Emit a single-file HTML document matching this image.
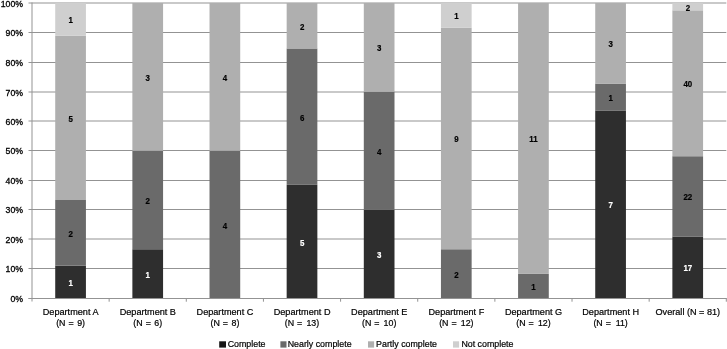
<!DOCTYPE html>
<html><head><meta charset="utf-8"><title>Chart</title>
<style>
html,body{margin:0;padding:0;background:#fff;overflow:hidden}
svg{display:block}
text{font-family:"Liberation Sans",sans-serif;fill:#000;stroke:#000;stroke-width:0.2px}
.ax{font-size:8.7px;stroke-width:0.3px}
.cat{font-size:9.15px}
.c2{font-size:8.85px}
.lg{font-size:8.85px}
.dl{font-size:8.8px;font-weight:bold}
</style></head><body>
<svg width="727" height="349" viewBox="0 0 727 349">
<rect width="727" height="349" fill="#fff"/>
<rect x="28.50" y="298.00" width="697.80" height="1" fill="#939393"/>
<text class="ax" x="23" y="302.10" text-anchor="end">0%</text>
<rect x="28.50" y="268.00" width="697.80" height="1" fill="#939393"/>
<text class="ax" x="23" y="272.10" text-anchor="end">10%</text>
<rect x="28.50" y="238.50" width="697.80" height="1" fill="#939393"/>
<text class="ax" x="23" y="242.60" text-anchor="end">20%</text>
<rect x="28.50" y="209.00" width="697.80" height="1" fill="#939393"/>
<text class="ax" x="23" y="213.10" text-anchor="end">30%</text>
<rect x="28.50" y="180.00" width="697.80" height="1" fill="#939393"/>
<text class="ax" x="23" y="184.10" text-anchor="end">40%</text>
<rect x="28.50" y="150.00" width="697.80" height="1" fill="#939393"/>
<text class="ax" x="23" y="154.10" text-anchor="end">50%</text>
<rect x="28.50" y="120.50" width="697.80" height="1" fill="#939393"/>
<text class="ax" x="23" y="124.60" text-anchor="end">60%</text>
<rect x="28.50" y="91.50" width="697.80" height="1" fill="#939393"/>
<text class="ax" x="23" y="95.60" text-anchor="end">70%</text>
<rect x="28.50" y="62.00" width="697.80" height="1" fill="#939393"/>
<text class="ax" x="23" y="66.10" text-anchor="end">80%</text>
<rect x="28.50" y="32.00" width="697.80" height="1" fill="#939393"/>
<text class="ax" x="23" y="36.10" text-anchor="end">90%</text>
<rect x="28.50" y="2.50" width="697.80" height="1" fill="#939393"/>
<text class="ax" x="23" y="6.60" text-anchor="end">100%</text>
<rect x="55.22" y="265.67" width="30.70" height="32.83" fill="#2e2e2e"/>
<text class="dl" transform="translate(70.67,286.03) scale(0.9,1)" text-anchor="middle" fill="#fff" style="fill:#fff;stroke:#fff">1</text>
<rect x="55.22" y="200.00" width="30.70" height="65.67" fill="#6a6a6a"/>
<text class="dl" transform="translate(70.67,236.78) scale(0.9,1)" text-anchor="middle" fill="#000" style="fill:#000;stroke:#000">2</text>
<rect x="55.22" y="35.83" width="30.70" height="164.17" fill="#afafaf"/>
<text class="dl" transform="translate(70.67,121.87) scale(0.9,1)" text-anchor="middle" fill="#000" style="fill:#000;stroke:#000">5</text>
<rect x="55.22" y="3.00" width="30.70" height="32.83" fill="#cfcfcf"/>
<text class="dl" transform="translate(70.67,23.37) scale(0.9,1)" text-anchor="middle" fill="#000" style="fill:#000;stroke:#000">1</text>
<text class="cat" x="70.67" y="314.9" text-anchor="middle">Department A</text>
<text class="cat c2" x="56.17" y="326.1">(N</text><text class="cat c2" x="71.07" y="326.1" text-anchor="middle">=</text><text class="cat c2" x="85.07" y="326.1" text-anchor="end">9)</text>
<rect x="132.37" y="249.25" width="30.70" height="49.25" fill="#2e2e2e"/>
<text class="dl" transform="translate(147.82,277.82) scale(0.9,1)" text-anchor="middle" fill="#fff" style="fill:#fff;stroke:#fff">1</text>
<rect x="132.37" y="150.75" width="30.70" height="98.50" fill="#6a6a6a"/>
<text class="dl" transform="translate(147.82,203.95) scale(0.9,1)" text-anchor="middle" fill="#000" style="fill:#000;stroke:#000">2</text>
<rect x="132.37" y="3.00" width="30.70" height="147.75" fill="#afafaf"/>
<text class="dl" transform="translate(147.82,80.83) scale(0.9,1)" text-anchor="middle" fill="#000" style="fill:#000;stroke:#000">3</text>
<text class="cat" x="147.82" y="314.9" text-anchor="middle">Department B</text>
<text class="cat c2" x="133.32" y="326.1">(N</text><text class="cat c2" x="148.22" y="326.1" text-anchor="middle">=</text><text class="cat c2" x="162.22" y="326.1" text-anchor="end">6)</text>
<rect x="209.51" y="150.75" width="30.70" height="147.75" fill="#6a6a6a"/>
<text class="dl" transform="translate(224.96,228.57) scale(0.9,1)" text-anchor="middle" fill="#000" style="fill:#000;stroke:#000">4</text>
<rect x="209.51" y="3.00" width="30.70" height="147.75" fill="#afafaf"/>
<text class="dl" transform="translate(224.96,80.83) scale(0.9,1)" text-anchor="middle" fill="#000" style="fill:#000;stroke:#000">4</text>
<text class="cat" x="224.96" y="314.9" text-anchor="middle">Department C</text>
<text class="cat c2" x="210.46" y="326.1">(N</text><text class="cat c2" x="225.36" y="326.1" text-anchor="middle">=</text><text class="cat c2" x="239.36" y="326.1" text-anchor="end">8)</text>
<rect x="286.66" y="184.85" width="30.70" height="113.65" fill="#2e2e2e"/>
<text class="dl" transform="translate(302.11,245.62) scale(0.9,1)" text-anchor="middle" fill="#fff" style="fill:#fff;stroke:#fff">5</text>
<rect x="286.66" y="48.46" width="30.70" height="136.38" fill="#6a6a6a"/>
<text class="dl" transform="translate(302.11,120.60) scale(0.9,1)" text-anchor="middle" fill="#000" style="fill:#000;stroke:#000">6</text>
<rect x="286.66" y="3.00" width="30.70" height="45.46" fill="#afafaf"/>
<text class="dl" transform="translate(302.11,29.68) scale(0.9,1)" text-anchor="middle" fill="#000" style="fill:#000;stroke:#000">2</text>
<text class="cat" x="302.11" y="314.9" text-anchor="middle">Department D</text>
<text class="cat c2" x="284.86" y="326.1">(N</text><text class="cat c2" x="299.71" y="326.1" text-anchor="middle">=</text><text class="cat c2" x="319.26" y="326.1" text-anchor="end">13)</text>
<rect x="363.80" y="209.85" width="30.70" height="88.65" fill="#2e2e2e"/>
<text class="dl" transform="translate(379.25,258.12) scale(0.9,1)" text-anchor="middle" fill="#fff" style="fill:#fff;stroke:#fff">3</text>
<rect x="363.80" y="91.65" width="30.70" height="118.20" fill="#6a6a6a"/>
<text class="dl" transform="translate(379.25,154.70) scale(0.9,1)" text-anchor="middle" fill="#000" style="fill:#000;stroke:#000">4</text>
<rect x="363.80" y="3.00" width="30.70" height="88.65" fill="#afafaf"/>
<text class="dl" transform="translate(379.25,51.28) scale(0.9,1)" text-anchor="middle" fill="#000" style="fill:#000;stroke:#000">3</text>
<text class="cat" x="379.25" y="314.9" text-anchor="middle">Department E</text>
<text class="cat c2" x="362.00" y="326.1">(N</text><text class="cat c2" x="376.85" y="326.1" text-anchor="middle">=</text><text class="cat c2" x="396.40" y="326.1" text-anchor="end">10)</text>
<rect x="440.94" y="249.25" width="30.70" height="49.25" fill="#6a6a6a"/>
<text class="dl" transform="translate(456.39,277.82) scale(0.9,1)" text-anchor="middle" fill="#000" style="fill:#000;stroke:#000">2</text>
<rect x="440.94" y="27.62" width="30.70" height="221.62" fill="#afafaf"/>
<text class="dl" transform="translate(456.39,142.39) scale(0.9,1)" text-anchor="middle" fill="#000" style="fill:#000;stroke:#000">9</text>
<rect x="440.94" y="3.00" width="30.70" height="24.62" fill="#cfcfcf"/>
<text class="dl" transform="translate(456.39,19.26) scale(0.9,1)" text-anchor="middle" fill="#000" style="fill:#000;stroke:#000">1</text>
<text class="cat" x="456.39" y="314.9" text-anchor="middle">Department F</text>
<text class="cat c2" x="439.14" y="326.1">(N</text><text class="cat c2" x="453.99" y="326.1" text-anchor="middle">=</text><text class="cat c2" x="473.54" y="326.1" text-anchor="end">12)</text>
<rect x="518.09" y="273.88" width="30.70" height="24.62" fill="#6a6a6a"/>
<text class="dl" transform="translate(533.54,290.14) scale(0.9,1)" text-anchor="middle" fill="#000" style="fill:#000;stroke:#000">1</text>
<rect x="518.09" y="3.00" width="30.70" height="270.88" fill="#afafaf"/>
<text class="dl" transform="translate(533.54,142.39) scale(0.9,1)" text-anchor="middle" fill="#000" style="fill:#000;stroke:#000">11</text>
<text class="cat" x="533.54" y="314.9" text-anchor="middle">Department G</text>
<text class="cat c2" x="516.29" y="326.1">(N</text><text class="cat c2" x="531.14" y="326.1" text-anchor="middle">=</text><text class="cat c2" x="550.69" y="326.1" text-anchor="end">12)</text>
<rect x="595.23" y="110.45" width="30.70" height="188.05" fill="#2e2e2e"/>
<text class="dl" transform="translate(610.68,208.43) scale(0.9,1)" text-anchor="middle" fill="#fff" style="fill:#fff;stroke:#fff">7</text>
<rect x="595.23" y="83.59" width="30.70" height="26.86" fill="#6a6a6a"/>
<text class="dl" transform="translate(610.68,100.97) scale(0.9,1)" text-anchor="middle" fill="#000" style="fill:#000;stroke:#000">1</text>
<rect x="595.23" y="3.00" width="30.70" height="80.59" fill="#afafaf"/>
<text class="dl" transform="translate(610.68,47.25) scale(0.9,1)" text-anchor="middle" fill="#000" style="fill:#000;stroke:#000">3</text>
<text class="cat" x="610.68" y="314.9" text-anchor="middle">Department H</text>
<text class="cat c2" x="593.43" y="326.1">(N</text><text class="cat c2" x="608.28" y="326.1" text-anchor="middle">=</text><text class="cat c2" x="627.83" y="326.1" text-anchor="end">11)</text>
<rect x="672.38" y="236.48" width="30.70" height="62.02" fill="#2e2e2e"/>
<text class="dl" transform="translate(687.83,271.44) scale(0.9,1)" text-anchor="middle" fill="#fff" style="fill:#fff;stroke:#fff">17</text>
<rect x="672.38" y="156.22" width="30.70" height="80.26" fill="#6a6a6a"/>
<text class="dl" transform="translate(687.83,200.30) scale(0.9,1)" text-anchor="middle" fill="#000" style="fill:#000;stroke:#000">22</text>
<rect x="672.38" y="10.30" width="30.70" height="145.93" fill="#afafaf"/>
<text class="dl" transform="translate(687.83,87.21) scale(0.9,1)" text-anchor="middle" fill="#000" style="fill:#000;stroke:#000">40</text>
<rect x="672.38" y="3.00" width="30.70" height="7.30" fill="#cfcfcf"/>
<text class="dl" transform="translate(687.83,10.60) scale(0.9,1)" text-anchor="middle" fill="#000" style="fill:#000;stroke:#000">2</text>
<text class="cat" x="687.83" y="314.9" text-anchor="middle">Overall (N = 81)</text>
<rect x="31.50" y="2.50" width="1" height="299.00" fill="#939393"/>
<rect x="28.50" y="298.00" width="698.30" height="1" fill="#939393"/>
<rect x="108.64" y="298.50" width="1" height="3.2" fill="#939393"/>
<rect x="185.79" y="298.50" width="1" height="3.2" fill="#939393"/>
<rect x="262.93" y="298.50" width="1" height="3.2" fill="#939393"/>
<rect x="340.08" y="298.50" width="1" height="3.2" fill="#939393"/>
<rect x="417.22" y="298.50" width="1" height="3.2" fill="#939393"/>
<rect x="494.37" y="298.50" width="1" height="3.2" fill="#939393"/>
<rect x="571.51" y="298.50" width="1" height="3.2" fill="#939393"/>
<rect x="648.66" y="298.50" width="1" height="3.2" fill="#939393"/>
<rect x="725.80" y="298.50" width="1" height="3.2" fill="#939393"/>
<rect x="219.2" y="341.3" width="6.8" height="6.3" fill="#161616"/>
<text class="lg" x="227.7" y="347.1">Complete</text>
<rect x="280.4" y="341.3" width="6.1" height="6.3" fill="#6a6a6a"/>
<text class="lg" x="287.7" y="347.1">Nearly complete</text>
<rect x="368.0" y="341.3" width="6.1" height="6.3" fill="#afafaf"/>
<text class="lg" x="376.1" y="347.1">Partly complete</text>
<rect x="453.0" y="341.3" width="6.1" height="6.3" fill="#cfcfcf"/>
<text class="lg" x="461.4" y="347.1">Not complete</text>
</svg>
</body></html>
